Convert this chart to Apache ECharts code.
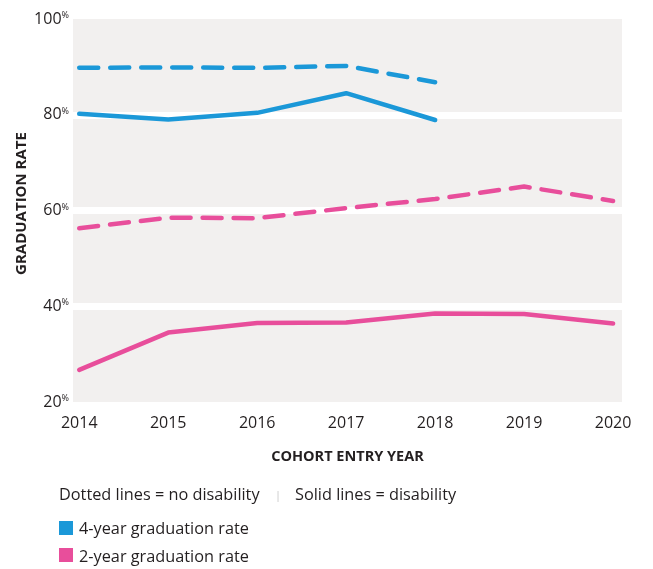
<!DOCTYPE html>
<html>
<head>
<meta charset="utf-8">
<script src="https://cdn.jsdelivr.net/npm/echarts@6/dist/echarts.min.js"></script>
<style>
html,body{margin:0;padding:0;background:#fff;}
#main{width:653px;height:569px;}
</style>
</head>
<body>
<div id="main"></div>
<script>
//年份与数据
var years=[2014,2015,2016,2017,2018,2019,2020];
var yTicks=[20,40,60,80,100];
var fourYearNoDis=[89.8,89.9,89.8,90.2,86.8];   //虚线 蓝
var fourYearDis=[80.2,79.0,80.4,84.5,78.9];     //实线 蓝
var twoYearNoDis=[56.3,58.5,58.4,60.5,62.4,65.0,62.0]; //虚线 粉
var twoYearDis=[26.7,34.5,36.5,36.6,38.5,38.4,36.4];   //实线 粉

var blue='#1b98d8';
var pink='#e84e9b';
var textColor='#231f20';
var font='"Open Sans", "Noto Sans", sans-serif';

//组合成 [x,y]
function pairs(vals){
	var out=[];
	for(var i=0;i<vals.length;i++){
		out.push([years[i],vals[i]]);
	}
	return out;
}

function lineSeries(name,vals,color,dashed){
	return {
		name:name,
		type:'line',
		data:pairs(vals),
		showSymbol:false,
		symbol:'none',
		silent:true,
		lineStyle:{
			color:color,
			width:4.5,
			type:dashed?[19,12]:'solid',
			cap:'round',
			join:'round'
		}
	};
}

var myChart=echarts.init(document.getElementById('main'),null,{renderer:'canvas'});

var option={
	animation:false,
	backgroundColor:'#fff',
	grid:{
		left:73,
		right:31,
		top:19,
		bottom:167,
		show:true,
		backgroundColor:'#f2f0ef',
		borderWidth:0
	},
	xAxis:{
		type:'value',
		min:2013.93,
		max:2020.1,
		axisLine:{show:false},
		axisTick:{show:false},
		splitLine:{show:false},
		axisLabel:{
			customValues:years,
			margin:13,
			color:textColor,
			fontFamily:font,
			fontSize:16,
			formatter:function(v){return String(v);}
		},
		name:'COHORT ENTRY YEAR',
		nameLocation:'middle',
		nameGap:47,
		nameMoveOverlap:false,
		nameTextStyle:{
			color:textColor,
			fontFamily:font,
			fontWeight:'bold',
			fontSize:14.5
		}
	},
	yAxis:{
		type:'value',
		min:20,
		max:100,
		interval:20,
		axisLine:{show:false},
		axisTick:{show:false},
		splitLine:{
			show:true,
			showMinLine:false,
			showMaxLine:false,
			lineStyle:{color:'#ffffff',width:7}
		},
		axisLabel:{
			margin:4,
			formatter:function(v){return '{n|'+v+'}{p|%}';},
			rich:{
				n:{color:textColor,fontFamily:font,fontSize:16},
				p:{color:textColor,fontFamily:font,fontSize:9,padding:[0,0,7,0]}
			}
		},
		name:'GRADUATION RATE',
		nameLocation:'middle',
		nameRotate:90,
		nameGap:44,
		nameMoveOverlap:false,
		nameTextStyle:{
			color:textColor,
			fontFamily:font,
			fontWeight:'bold',
			fontSize:15,
			padding:[0,0,0,14]
		}
	},
	series:[
		lineSeries('4-year no disability',fourYearNoDis,blue,true),
		lineSeries('4-year disability',fourYearDis,blue,false),
		lineSeries('2-year no disability',twoYearNoDis,pink,true),
		lineSeries('2-year disability',twoYearDis,pink,false)
	],
	graphic:[
		{type:'text',left:59,top:487,style:{text:'Dotted lines = no disability',fill:textColor,font:'16.3px '+font}},
		{type:'text',left:275,top:490,style:{text:'|',fill:'#c8c8c8',font:'11px '+font}},
		{type:'text',left:295,top:487,style:{text:'Solid lines = disability',fill:textColor,font:'16.3px '+font}},
		{type:'rect',shape:{x:59,y:521,width:14,height:14},style:{fill:blue}},
		{type:'text',left:79,top:521,style:{text:'4-year graduation rate',fill:textColor,font:'16.3px '+font}},
		{type:'rect',shape:{x:59,y:548,width:14,height:14},style:{fill:pink}},
		{type:'text',left:79,top:549,style:{text:'2-year graduation rate',fill:textColor,font:'16.3px '+font}}
	]
};

myChart.setOption(option);
</script>
</body>
</html>
